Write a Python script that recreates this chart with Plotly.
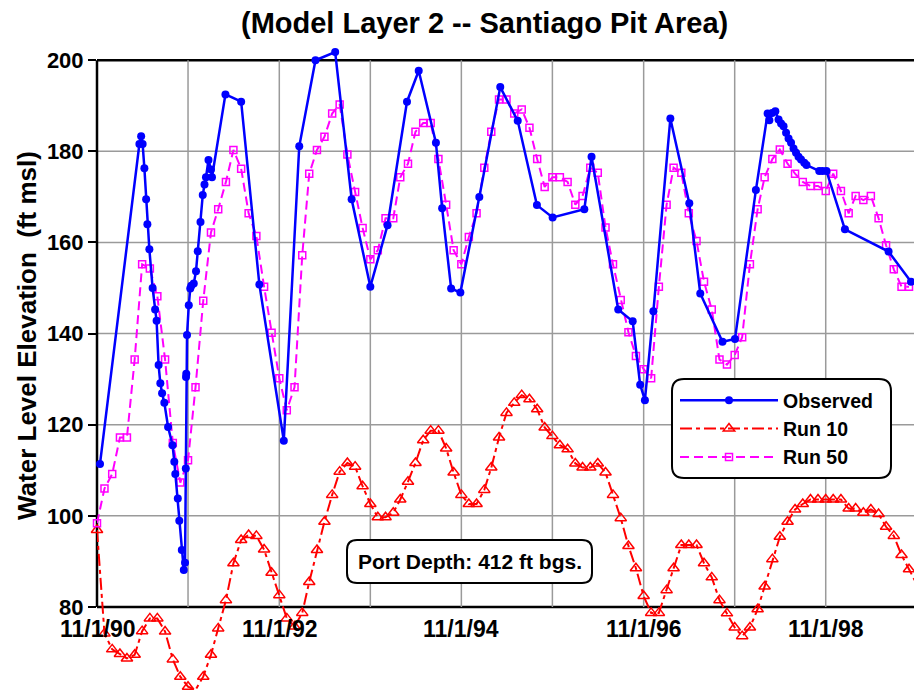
import pandas as pd
import plotly.graph_objects as go

# ---------------- data ----------------
START = "1990-11-01"

# Observed: days after 11/1/1990 and water level (ft msl)
obs_days = [12, 170, 177, 183, 190, 197, 202, 210, 223, 233,
            239, 247, 254, 261, 270, 285, 303, 310, 314, 324,
            330, 340, 348, 353, 356, 357, 358, 361, 368, 374,
            378, 388, 397, 404, 415, 424, 431, 437, 447, 457,
            461, 515, 578, 651, 749, 811, 876, 955, 1021, 1096,
            1165, 1243, 1290, 1359, 1384, 1420, 1457, 1533, 1617, 1687,
            1764, 1827, 1954, 1983, 2090, 2148, 2178, 2197, 2231, 2299,
            2375, 2419, 2508, 2558, 2642, 2689, 2696, 2707, 2720, 2733,
            2743, 2753, 2763, 2773, 2783, 2793, 2803, 2813, 2823, 2836,
            2845, 2896, 2909, 2925, 2999, 3174, 3264]
obs_vals = [111.4, 181.6, 183.3, 181.6, 176.3, 169.5, 164.0, 158.5, 150.0, 145.3,
            142.8, 133.1, 129.1, 126.9, 124.8, 119.5, 115.5, 111.9, 109.2, 103.8,
            98.9, 92.5, 88.1, 89.7, 110.4, 130.5, 131.2, 139.7, 146.2, 149.9,
            150.5, 151.0, 153.7, 158.1, 164.5, 170.4, 172.7, 174.3, 178.1, 176.0,
            174.3, 192.5, 190.9, 150.8, 116.5, 181.1, 200.0, 201.8, 169.5, 150.3,
            163.8, 190.9, 197.7, 181.9, 167.5, 149.9, 149.0, 170.0, 194.1, 186.7,
            168.2, 165.5, 167.3, 178.8, 145.3, 142.7, 128.8, 125.4, 144.9, 187.2,
            168.6, 148.8, 138.2, 138.8, 171.5, 188.3, 186.8, 188.4, 188.8, 187.0,
            186.1, 185.5, 184.1, 182.8, 181.9, 180.6, 179.7, 178.8, 178.2, 177.5,
            177.0, 175.7, 175.7, 175.7, 162.9, 158.0, 151.4]

# Model runs: monthly values starting 11/1/1990
run10_vals = [96.9, 74.2, 70.7, 69.7, 68.7, 69.5, 74.7, 77.5, 77.5, 74.6,
              68.5, 64.7, 62.5, 61.8, 64.7, 69.5, 75.3, 81.5, 89.6, 94.7,
              95.8, 95.6, 92.6, 87.5, 82.6, 77.5, 75.7, 78.7, 85.5, 92.5,
              98.7, 104.6, 109.7, 111.6, 110.8, 106.5, 102.6, 99.7, 99.7, 100.7,
              103.6, 107.5, 111.6, 116.6, 118.7, 118.7, 114.8, 109.5, 104.6, 102.6,
              102.6, 105.7, 110.6, 117.2, 122.6, 124.8, 126.5, 125.6, 123.4, 119.4,
              117.5, 115.5, 114.6, 111.5, 110.6, 110.6, 111.5, 109.5, 104.6, 99.5,
              93.4, 88.5, 82.4, 78.7, 78.7, 83.7, 88.5, 93.6, 93.6, 93.6,
              89.6, 86.5, 81.5, 78.6, 75.5, 73.6, 75.5, 79.5, 84.5, 90.5,
              95.4, 98.7, 101.4, 102.6, 103.6, 103.6, 103.6, 103.6, 103.6, 101.6,
              101.6, 100.7, 101.4, 100.4, 97.6, 95.6, 91.4, 88.3, 85.0]
run50_vals = [98.4, 106.0, 109.2, 117.2, 117.2, 134.3, 155.2, 154.3, 148.2, 134.3,
              116.0, 107.3, 112.2, 128.2, 147.2, 162.2, 167.3, 173.3, 180.3, 176.2,
              166.4, 161.4, 150.3, 140.2, 130.2, 123.2, 128.2, 157.2, 175.1, 180.3,
              183.2, 188.3, 190.3, 179.3, 171.1, 163.2, 156.3, 158.3, 165.3, 165.3,
              174.3, 177.3, 184.3, 186.2, 186.2, 178.3, 168.3, 158.3, 155.2, 161.2,
              166.4, 176.4, 184.3, 191.4, 191.4, 188.3, 189.2, 185.2, 178.3, 172.2,
              174.3, 174.3, 173.3, 168.3, 170.2, 176.4, 175.3, 163.3, 155.2, 147.4,
              140.3, 135.1, 132.2, 130.2, 150.3, 168.3, 176.4, 175.3, 166.4, 160.3,
              151.4, 145.3, 134.3, 133.2, 135.3, 139.2, 155.2, 167.3, 174.3, 178.3,
              180.4, 177.3, 175.1, 173.3, 172.4, 172.4, 171.3, 175.1, 171.3, 166.4,
              170.2, 169.3, 170.2, 165.3, 159.4, 154.1, 150.3, 150.3]

tick_dates = ["1990-11-01", "1992-11-01", "1994-11-01", "1996-11-01", "1998-11-01"]
tick_labels = ["11/1/90", "11/1/92", "11/1/94", "11/1/96", "11/1/98"]
grid_dates = ["1991-11-01", "1992-11-01", "1993-11-01", "1994-11-01",
              "1995-11-01", "1996-11-01", "1997-11-01", "1998-11-01"]
y_ticks = [80, 100, 120, 140, 160, 180, 200]

# ---------------- derived ----------------
t0 = pd.Timestamp(START)
obs_dates = t0 + pd.to_timedelta(obs_days, unit="D")
run10_dates = pd.date_range(START, periods=len(run10_vals), freq="MS")
run50_dates = pd.date_range(START, periods=len(run50_vals), freq="MS")

W, H = 914, 692
ML, MR, MT, MB = 97, 0, 42, 3
PW, PH = W - ML - MR, H - MT - MB
FONT = "Liberation Sans, Arial, sans-serif"


def px(x):
    """page x pixel -> paper"""
    return (x - ML) / PW


def py(y):
    """page y pixel -> paper"""
    return 1 - (y - MT) / PH


def rrect(x0, y0, x1, y1, r):
    pts = [
        ("M", x0 + r, y0), ("L", x1 - r, y0), ("Q", x1, y0, x1, y0 + r),
        ("L", x1, y1 - r), ("Q", x1, y1, x1 - r, y1), ("L", x0 + r, y1),
        ("Q", x0, y1, x0, y1 - r), ("L", x0, y0 + r), ("Q", x0, y0, x0 + r, y0),
    ]
    out = []
    for p in pts:
        cmd = p[0]
        coords = p[1:]
        s = []
        for i in range(0, len(coords), 2):
            s.append(f"{px(coords[i]):.5f},{py(coords[i+1]):.5f}")
        out.append(cmd + " ".join(s))
    return " ".join(out) + " Z"


fig = go.Figure()

fig.add_trace(go.Scatter(
    x=run10_dates, y=run10_vals, name="Run 10", mode="lines+markers",
    line=dict(color="#FF0000", width=2, dash="12px,4px,4px,4px"),
    marker=dict(symbol="triangle-up-open", size=10, color="#FF0000",
                line=dict(width=1.5, color="#FF0000")),
    cliponaxis=False, legendrank=2))

fig.add_trace(go.Scatter(
    x=run50_dates, y=run50_vals, name="Run 50", mode="lines+markers",
    line=dict(color="#FF00FF", width=2, dash="9px,5px"),
    marker=dict(symbol="square-open", size=7, color="#FF00FF",
                line=dict(width=1.5, color="#FF00FF")),
    cliponaxis=False, legendrank=3))

fig.add_trace(go.Scatter(
    x=obs_dates, y=obs_vals, name="Observed", mode="lines+markers",
    line=dict(color="#0000FF", width=2.5),
    marker=dict(symbol="circle", size=8, color="#0000FF"),
    cliponaxis=False, legendrank=1))

shapes = []
GRID = "#9a9a9a"
for d in grid_dates:
    shapes.append(dict(type="line", xref="x", yref="y", x0=d, x1=d, y0=80, y1=200,
                       line=dict(color=GRID, width=1.5), layer="below"))
for v in y_ticks[1:-1]:
    shapes.append(dict(type="line", xref="paper", yref="y", x0=0, x1=1, y0=v, y1=v,
                       line=dict(color=GRID, width=1.5), layer="below"))
# frame
for (x0, x1, y0, y1) in [(0, 1, 200, 200), (0, 1, 80, 80), (0, 0, 80, 200)]:
    shapes.append(dict(type="line", xref="paper", yref="y", x0=x0, x1=x1, y0=y0, y1=y1,
                       line=dict(color="black", width=2.5), layer="below"))
# legend box and port-depth box
shapes.append(dict(type="path", xref="paper", yref="paper",
                   path=rrect(672, 379, 891, 478, 12),
                   line=dict(color="black", width=2), fillcolor="white", layer="above"))
shapes.append(dict(type="path", xref="paper", yref="paper",
                   path=rrect(347, 540, 592, 583, 10),
                   line=dict(color="black", width=2), fillcolor="white", layer="above"))

annotations = []
for d, lab in zip(tick_dates, tick_labels):
    annotations.append(dict(x=d, y=80, xref="x", yref="y", text=lab, showarrow=False,
                            xanchor="center", yanchor="middle", yshift=-22,
                            font=dict(family=FONT, size=23, color="black", weight="bold")))
annotations.append(dict(x=px(484), y=py(23), xref="paper", yref="paper",
                        text="(Model Layer 2 -- Santiago Pit Area)", showarrow=False,
                        xanchor="center", yanchor="middle",
                        font=dict(family=FONT, size=29, color="black", weight="bold")))
annotations.append(dict(x=px(27), y=py(336), xref="paper", yref="paper",
                        text="Water Level Elevation&nbsp; (ft msl)", showarrow=False,
                        textangle=-90, xanchor="center", yanchor="middle",
                        font=dict(family=FONT, size=26, color="black", weight="bold")))
annotations.append(dict(x=px(470), y=py(561), xref="paper", yref="paper",
                        text="Port Depth: 412 ft bgs.", showarrow=False,
                        xanchor="center", yanchor="middle",
                        font=dict(family=FONT, size=21, color="black", weight="bold")))

fig.update_layout(
    width=W, height=H,
    margin=dict(l=ML, r=MR, t=MT, b=MB, pad=0, autoexpand=False),
    paper_bgcolor="white", plot_bgcolor="white",
    showlegend=True,
    legend=dict(x=px(675), y=py(381), xanchor="left", yanchor="top",
                bgcolor="rgba(0,0,0,0)", borderwidth=0, itemwidth=98,
                font=dict(family=FONT, size=19.5, color="black", weight="bold"),
                tracegroupgap=0),
    xaxis=dict(type="date", range=["1990-11-01", "1999-10-21"], showgrid=False,
               zeroline=False, showline=False, showticklabels=False, ticks="",
               automargin=False),
    yaxis=dict(range=[62, 204], tickvals=y_ticks, ticktext=[str(v) for v in y_ticks],
               showgrid=False, zeroline=False, showline=False, automargin=False,
               ticks="outside", ticklen=8, tickwidth=2, tickcolor="black",
               tickfont=dict(family=FONT, size=22, color="black", weight="bold")),
    shapes=shapes,
    annotations=annotations,
)

fig.write_html(
    "out.html",
    config={"displayModeBar": False},
    post_script="document.body.style.margin='0';document.body.style.overflow='hidden';",
)
